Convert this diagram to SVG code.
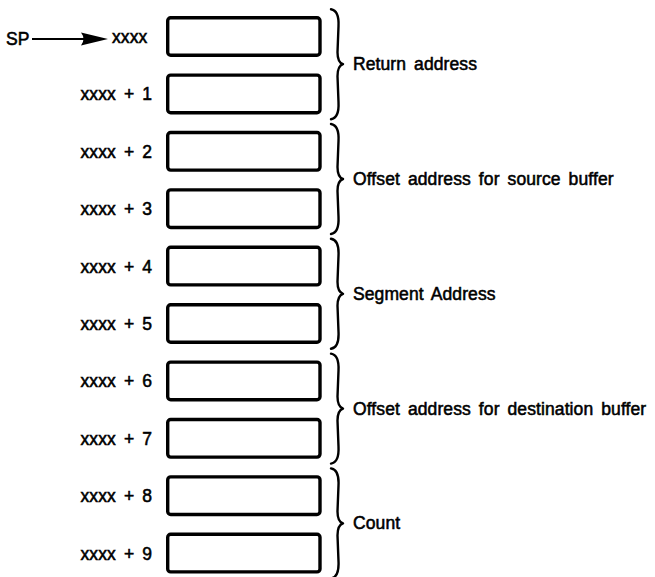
<svg xmlns="http://www.w3.org/2000/svg" width="655" height="577" viewBox="0 0 655 577">
<style>
.box{fill:#fff;stroke:#000;stroke-width:3.4}
.t{font-family:"Liberation Sans",Arial,Helvetica,sans-serif;font-size:17.5px;fill:#000;stroke:#000;stroke-width:0.55;word-spacing:3px;letter-spacing:0.1px}
.lbl{text-anchor:end}
.brace{fill:none;stroke:#000;stroke-width:2.4;stroke-linecap:round;stroke-linejoin:round}
.line{stroke:#000;stroke-width:2.2;fill:none}
</style>
<defs>
<path id="br" class="brace" d="M331,-55 C337,-54 339,-48 338.5,-38 L337.5,-12 C337.5,-4 340,-1 343,0 C340,1 337.5,4 337.5,12 L338.5,38 C339,48 337,54 331,55"/>
</defs>
<rect width="655" height="577" fill="#fff"/>
<g id="connectors">
<line class="line" x1="32" y1="39" x2="86" y2="39"/>
<path d="M81,32.5 L108,39 L81,45.5 Q86,39 81,32.5 Z" fill="#000"/>
</g>
<g id="sp"><text class="t" x="6" y="45">SP</text></g>
<g id="n0"><rect class="box" x="167.7" y="17.7" width="152.3" height="37.6" rx="3"/><text class="t" x="112" y="43">xxxx</text></g>
<g id="n1"><rect class="box" x="167.7" y="75.1" width="152.3" height="37.6" rx="3"/><text class="t lbl" x="152" y="100.4">xxxx + 1</text></g>
<g id="n2"><rect class="box" x="167.7" y="132.5" width="152.3" height="37.6" rx="3"/><text class="t lbl" x="152" y="157.8">xxxx + 2</text></g>
<g id="n3"><rect class="box" x="167.7" y="189.9" width="152.3" height="37.6" rx="3"/><text class="t lbl" x="152" y="215.2">xxxx + 3</text></g>
<g id="n4"><rect class="box" x="167.7" y="247.3" width="152.3" height="37.6" rx="3"/><text class="t lbl" x="152" y="272.6">xxxx + 4</text></g>
<g id="n5"><rect class="box" x="167.7" y="304.7" width="152.3" height="37.6" rx="3"/><text class="t lbl" x="152" y="330">xxxx + 5</text></g>
<g id="n6"><rect class="box" x="167.7" y="362.1" width="152.3" height="37.6" rx="3"/><text class="t lbl" x="152" y="387.4">xxxx + 6</text></g>
<g id="n7"><rect class="box" x="167.7" y="419.5" width="152.3" height="37.6" rx="3"/><text class="t lbl" x="152" y="444.8">xxxx + 7</text></g>
<g id="n8"><rect class="box" x="167.7" y="476.9" width="152.3" height="37.6" rx="3"/><text class="t lbl" x="152" y="502.2">xxxx + 8</text></g>
<g id="n9"><rect class="box" x="167.7" y="534.3" width="152.3" height="37.6" rx="3"/><text class="t lbl" x="152" y="559.6">xxxx + 9</text></g>
<g id="g0"><use href="#br" transform="translate(0,64.2)"/><text class="t" x="353" y="70">Return address</text></g>
<g id="g1"><use href="#br" transform="translate(0,179)"/><text class="t" x="353" y="185">Offset address for source buffer</text></g>
<g id="g2"><use href="#br" transform="translate(0,293.8)"/><text class="t" x="353" y="300">Segment Address</text></g>
<g id="g3"><use href="#br" transform="translate(0,408.6)"/><text class="t" x="353" y="414.5">Offset address for destination buffer</text></g>
<g id="g4"><use href="#br" transform="translate(0,523.4)"/><text class="t" x="353" y="529">Count</text></g>
</svg>
